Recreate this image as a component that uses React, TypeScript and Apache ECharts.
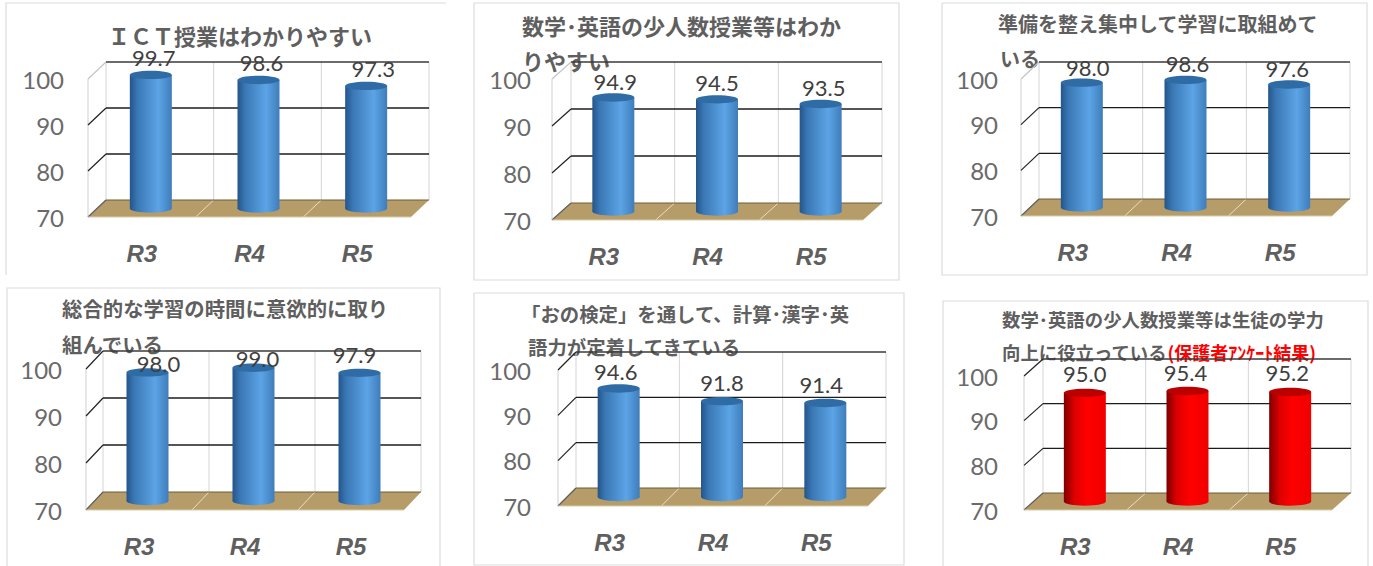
import React, { useEffect, useRef } from "react";
import * as echarts from "echarts";

const categories = ["R3", "R4", "R5"];
const yTicks = [70, 80, 90, 100];

const valuesIct = [99.7, 98.6, 97.3];
const valuesSmallClass = [94.9, 94.5, 93.5];
const valuesReady = [98.0, 98.6, 97.6];
const valuesSogo = [98.0, 99.0, 97.9];
const valuesOno = [94.6, 91.8, 91.4];
const valuesParents = [95.0, 95.4, 95.2];

const titlesIct = ["ＩＣＴ授業はわかりやすい"];
const titlesSmallClass = ["数学･英語の少人数授業等はわか", "りやすい"];
const titlesReady = ["準備を整え集中して学習に取組めて", "いる"];
const titlesSogo = ["総合的な学習の時間に意欲的に取り", "組んでいる"];
const titlesOno = ["「おの検定」を通して、計算･漢字･英", "語力が定着してきている"];
const titlesParents = ["数学･英語の少人数授業等は生徒の学力", "向上に役立っている"];
const titleNoteParents = "(保護者ｱﾝｹｰﾄ結果)";

const BLUE = { top: "#2f6ca6", stops: [[0, "#23558a"], [0.18, "#3a77b4"], [0.68, "#5ca4e6"], [1, "#3f7dba"]] };
const RED = { top: "#bb0000", stops: [[0, "#7d0000"], [0.25, "#dd0000"], [0.55, "#ff0000"], [1, "#f00000"]] };

// Placement of each panel on the page, separate from the values above.
const panels = [
  { values: valuesIct, titles: titlesIct, tone: BLUE, fl: [88, 217], fr: 411, back: [106, 200], topY: 62, labelMargin: 24,
    titleX: [108], titleY: [35], titleSize: 22, darkTop: false,
    frame: [[6, 275], [6, 3], [446, 3]], nudge: [[3, 0], [3, 0], [7, 0]] },
  { values: valuesSmallClass, titles: titlesSmallClass, tone: BLUE, fl: [552, 220], fr: 863, back: [571, 203], topY: 62, labelMargin: 21,
    titleX: [522, 522], titleY: [25, 60], titleSize: 22, darkTop: false,
    frame: [[474, 3], [899, 3], [899, 280], [474, 280], [474, 3]], nudge: [[2, 1], [0, 0], [3, 0]] },
  { values: valuesReady, titles: titlesReady, tone: BLUE, fl: [1021, 216], fr: 1332, back: [1039, 199], topY: 62, labelMargin: 23,
    titleX: [998, 1000], titleY: [23, 58], titleSize: 20, darkTop: false,
    frame: [[942, 3], [1367, 3], [1367, 275], [942, 275], [942, 3]], nudge: [[6, 2], [2, 1], [-2, 1]] },
  { values: valuesSogo, titles: titlesSogo, tone: BLUE, fl: [86, 510], fr: 404, back: [103, 492], topY: 351, labelMargin: 24,
    titleX: [62, 62], titleY: [308, 344], titleSize: 20.4, darkTop: true,
    frame: [[7, 566], [7, 288], [440, 288], [440, 566]], nudge: [[11, 8], [4, 8], [-5, -1]] },
  { values: valuesOno, titles: titlesOno, tone: BLUE, fl: [558, 506], fr: 868, back: [576, 488], topY: 352, labelMargin: 27,
    titleX: [521, 528], titleY: [313, 346], titleSize: 19.4, darkTop: true,
    frame: [[474, 293], [904, 293], [904, 565], [474, 565], [474, 293]], nudge: [[-3, 0], [0, -2], [-4, -1]] },
  { values: valuesParents, titles: titlesParents, tone: RED, fl: [1024, 510], fr: 1332, back: [1043, 493], topY: 359, labelMargin: 26,
    titleX: [1002, 1002], titleY: [319, 352], titleSize: 18.4, darkTop: true,
    frame: [[943, 566], [943, 301], [1368, 301], [1368, 566]], nudge: [[0, -2], [-2, -2], [-3, -2]] },
];

const CJK = '"Noto Sans CJK JP", sans-serif';
const GREY = "#5f5f5f";

function buildOption() {
  const grid: any[] = [];
  const xAxis: any[] = [];
  const yAxis: any[] = [];
  const series: any[] = [];
  const title: any[] = [];

  panels.forEach((p, i) => {
    const dx = p.back[0] - p.fl[0];
    const dy = p.fl[1] - p.back[1];
    const h = p.back[1] - p.topY;
    grid.push({ left: p.fl[0], top: p.fl[1] - h, width: p.fr - p.fl[0], height: h, containLabel: false });
    xAxis.push({
      gridIndex: i, type: "category", data: categories,
      axisLine: { show: false }, axisTick: { show: false }, splitLine: { show: false },
      axisLabel: { margin: 24, fontFamily: "Liberation Sans", fontWeight: "bold", fontStyle: "italic", fontSize: 24, color: GREY },
    });
    yAxis.push({
      gridIndex: i, type: "value", min: 70, max: 100, interval: 10,
      axisLine: { show: false }, axisTick: { show: false }, splitLine: { show: false },
      axisLabel: { margin: p.labelMargin, fontFamily: "Lato", fontWeight: "normal", fontSize: 24, color: "#6a6a6a" },
    });

    p.titles.forEach((t, k) => {
      const note = i === 5 && k === 1;
      title.push({
        text: note ? `{a|${t}}{b|${titleNoteParents}}` : t,
        left: p.titleX[k], top: p.titleY[k] - 15, z: 1,
        padding: 0,
        textStyle: {
          fontFamily: CJK, fontWeight: "bold", fontSize: p.titleSize, color: GREY, lineHeight: 30,
          rich: note
            ? {
                a: { fontFamily: CJK, fontWeight: "bold", fontSize: p.titleSize, color: GREY, lineHeight: 30 },
                b: { fontFamily: CJK, fontWeight: "bold", fontSize: 18, color: "#ff0000", lineHeight: 30 },
              }
            : undefined,
        },
      });
    });

    // walls, floor and gridlines
    series.push({
      type: "custom", xAxisIndex: i, yAxisIndex: i, silent: true, z: 2, clip: false,
      data: [[1, 70]], encode: { x: 0, y: 1 },
      renderItem: (_: any, api: any) => {
        const band = api.size([1, 0])[0];
        const y = (v: number) => api.coord([1, v])[1];
        const xAt = (c: number) => api.coord([c, 70])[0];
        const left = xAt(0) - band / 2;
        const right = xAt(2) + band / 2;
        const children: any[] = [];
        const line = (x1: number, y1: number, x2: number, y2: number, stroke: string, w: number) =>
          children.push({ type: "line", shape: { x1, y1, x2, y2 }, style: { stroke, lineWidth: w } });
        // floor
        children.push({
          type: "polygon",
          shape: { points: [[left, y(70)], [right, y(70)], [right + dx, y(70) - dy], [left + dx, y(70) - dy]] },
          style: { fill: "#b59c68" },
        });
        // vertical wall lines
        for (let c = 0; c <= 3; c++) {
          const bx = left + c * band + dx;
          line(bx, y(70) - dy, bx, y(100) - dy, "#d4d4d4", 1);
          if (c < 3) line(left + c * band, y(70), bx, y(70) - dy, "#e9dfc4", 1);
        }
        line(left, y(70), left, y(100), "#cfcfcf", 1);
        // grid rows from the tick list
        yTicks.forEach((tick) => {
          const topRow = tick === 100;
          const diag = topRow && !p.darkTop ? "#c4c4c4" : "#222222";
          const rowCol = tick === 70 ? "#6e5c38" : topRow ? "#3a3a3a" : "#1c1c1c";
          line(left, y(tick), left + dx, y(tick) - dy, tick === 70 ? "#5c5c5c" : diag, 1.2);
          line(left + dx, y(tick) - dy, right + dx, y(tick) - dy, rowCol, tick === 70 ? 1 : 1.4);
        });
        line(left, y(70), right, y(70), "#d8cda8", 1);
        return { type: "group", children };
      },
    });

    // cylinders with value labels
    series.push({
      type: "custom", xAxisIndex: i, yAxisIndex: i, silent: true, z: 3, clip: false,
      data: p.values.map((v, c) => [c, v]), encode: { x: 0, y: 1 },
      renderItem: (params: any, api: any) => {
        const cat = api.value(0);
        const val = api.value(1);
        const [cx0, yVal] = api.coord([cat, val]);
        const y0 = api.coord([cat, 70])[1];
        const cx = cx0 + dx / 2;
        const rx = 21;
        const ry = 4.2;
        const yBase = y0 - dy / 2;
        const yTop = yVal - dy / 2 + 3;
        const fill = {
          type: "linear", x: 0, y: 0, x2: 1, y2: 0,
          colorStops: p.tone.stops.map(([offset, color]) => ({ offset, color })),
        };
        const n = p.nudge[params.dataIndex];
        return {
          type: "group",
          children: [
            { type: "rect", shape: { x: cx - rx, y: yTop, width: rx * 2, height: yBase - yTop }, style: { fill } },
            { type: "ellipse", shape: { cx, cy: yBase, rx, ry }, style: { fill } },
            { type: "ellipse", shape: { cx, cy: yTop, rx, ry }, style: { fill: p.tone.top } },
            {
              type: "text", z2: 10,
              style: {
                text: Number(val).toFixed(1), x: cx + n[0], y: yTop - 17 + n[1],
                align: "center", verticalAlign: "middle",
                fontFamily: "Lato", fontSize: 22, fill: "#404040",
              },
            },
          ],
        };
      },
    });
  });

  const graphic = panels.map((p) => ({
    type: "polyline", silent: true, z: 0,
    shape: { points: p.frame },
    style: { stroke: "#dcdcdc", lineWidth: 1.2, fill: "none" },
  }));

  return { animation: false, backgroundColor: "#ffffff", grid, xAxis, yAxis, series, title, graphic };
}

export default function App() {
  const ref = useRef<HTMLDivElement>(null);
  useEffect(() => {
    document.body.style.margin = "0";
    const chart = echarts.init(ref.current!, undefined, { renderer: "svg" });
    chart.setOption(buildOption() as any);
    return () => chart.dispose();
  }, []);
  return <div ref={ref} style={{ width: 1373, height: 566 }} />;
}
